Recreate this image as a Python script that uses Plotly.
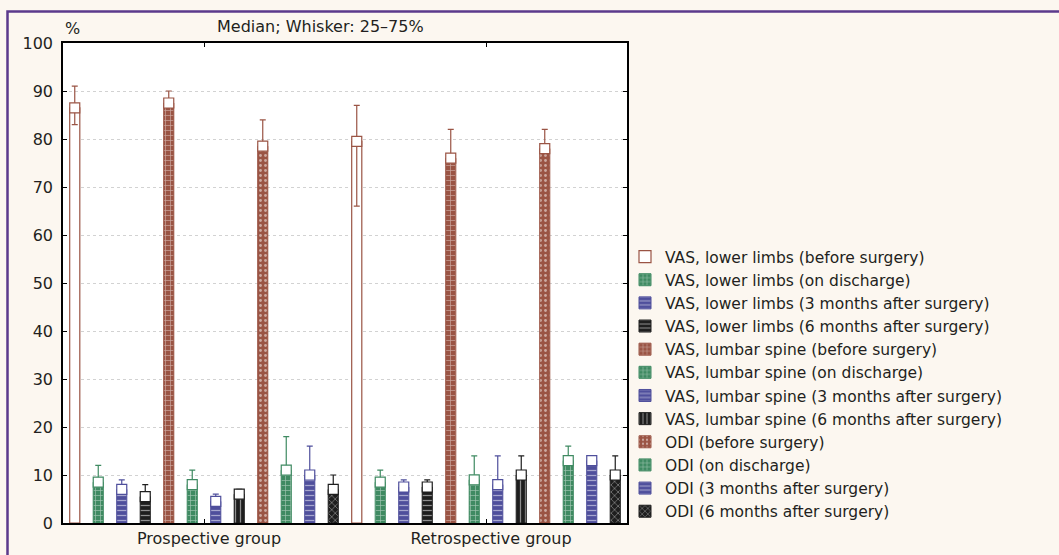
import plotly.graph_objects as go

groups = ["Prospective group", "Retrospective group"]
series = [
    "VAS, lower limbs (before surgery)",
    "VAS, lower limbs (on discharge)",
    "VAS, lower limbs (3 months after surgery)",
    "VAS, lower limbs (6 months after surgery)",
    "VAS, lumbar spine (before surgery)",
    "VAS, lumbar spine (on discharge)",
    "VAS, lumbar spine (3 months after surgery)",
    "VAS, lumbar spine (6 months after surgery)",
    "ODI (before surgery)",
    "ODI (on discharge)",
    "ODI (3 months after surgery)",
    "ODI (6 months after surgery)",
]
median_prospective = [86.5, 8.5, 7.0, 5.5, 87.5, 8.0, 4.5, 6.0, 78.5, 11.0, 10.0, 7.0]
q75_prospective = [91, 12, 9, 8, 90, 11, 6, 7, 84, 18, 16, 10]
q25_prospective = [83, None, None, None, None, None, None, None, None, None, None, None]
median_retrospective = [79.5, 8.5, 7.5, 7.5, 76.0, 9.0, 8.0, 10.0, 78.0, 13.0, 13.0, 10.0]
q75_retrospective = [87, 11, 9, 9, 82, 14, 14, 14, 82, 16, 14, 14]
q25_retrospective = [66, None, None, None, None, None, None, None, None, None, None, None]
y_ticks = [0, 10, 20, 30, 40, 50, 60, 70, 80, 90, 100]

BROWN = "#9a5444"
GREEN = "#3f8a62"
BLUE = "#4f4f9c"
BLACK = "#1e1e1e"
colors = [BROWN, GREEN, BLUE, BLACK] * 3
patterns = ["", "+", "-", "-", "+", "+", "-", "|", ".", "+", "-", "x"]

FONT = "DejaVu Sans, Liberation Sans, Arial, sans-serif"
TXT = "#231f20"
FS = 16

fig = go.Figure()
for i, name in enumerate(series):
    med = [median_prospective[i], median_retrospective[i]]
    q75 = [q75_prospective[i], q75_retrospective[i]]
    q25 = [q25_prospective[i], q25_retrospective[i]]
    up = [b - a for a, b in zip(med, q75)]
    down = [(a - b) if b is not None else 0 for a, b in zip(med, q25)]
    c = colors[i]
    if patterns[i] == "":
        marker = dict(color="white", line=dict(color=c, width=1.2))
    else:
        marker = dict(color=c, line=dict(color=c, width=1),
                      pattern=dict(shape=patterns[i], fillmode="overlay",
                                   fgcolor="white", size=5, solidity=0.25))
    fig.add_trace(go.Bar(
        x=groups, y=med, name=name, marker=marker,
        error_y=dict(type="data", symmetric=False, array=up, arrayminus=down,
                     color=c, thickness=1.2, width=3),
    ))
for i, name in enumerate(series):
    med = [median_prospective[i], median_retrospective[i]]
    fig.add_trace(go.Scatter(
        x=groups, y=med, mode="markers", showlegend=False, hoverinfo="skip",
        marker=dict(symbol="square", size=10, color="white",
                    line=dict(color=colors[i], width=1.2)),
    ))

L, R, T, B = 63, 627, 43, 523
W, H = 1059, 555
fig.update_layout(
    width=W, height=H,
    margin=dict(l=L, r=W - R, t=T, b=H - B, autoexpand=False),
    barmode="group", bargap=0.0, bargroupgap=0.57,
    scattermode="group", scattergap=0.0,
    paper_bgcolor="#fcf7f0", plot_bgcolor="white",
    font=dict(family=FONT, size=FS, color=TXT),
    showlegend=True,
    legend=dict(x=(625 - L) / (R - L), xanchor="left", y=(B - 240) / (B - T), yanchor="top",
                bgcolor="rgba(0,0,0,0)", font=dict(size=15.5, family=FONT, color=TXT),
                traceorder="normal", tracegroupgap=0),
    xaxis=dict(type="category", showline=True, linecolor="black", linewidth=1.5, mirror="ticks",
               ticks="inside", ticklen=4, tickcolor="black", tickfont=dict(size=FS),
               ticklabelshift=5, showgrid=False),
    yaxis=dict(range=[0, 100], tickvals=y_ticks, showline=True, linecolor="black", linewidth=1.5,
               mirror="ticks", ticks="inside", ticklen=4, tickcolor="black",
               showgrid=True, gridcolor="#d2d2d2", griddash="dot", gridwidth=1,
               zeroline=False, tickfont=dict(size=FS), ticklabelstandoff=5),
    annotations=[
        dict(text="Median; Whisker: 25–75%", xref="paper", yref="paper",
             x=(320 - L) / (R - L), y=(B - 27) / (B - T), xanchor="center", yanchor="middle",
             showarrow=False, font=dict(size=FS)),
        dict(text="%", xref="paper", yref="paper", x=0, y=(B - 28) / (B - T),
             xanchor="left", yanchor="middle", showarrow=False, font=dict(size=FS)),
    ],
    shapes=[
        dict(type="rect", xref="paper", yref="paper",
             x0=(7.5 - L) / (R - L), y0=-1, x1=3, y1=(B - 11.5) / (B - T),
             line=dict(color="#5b3a8c", width=2.5), fillcolor="rgba(0,0,0,0)", layer="below"),
    ],
)
fig.write_html("out.html", config={"displayModeBar": False},
               post_script="document.body.style.margin='0';")
